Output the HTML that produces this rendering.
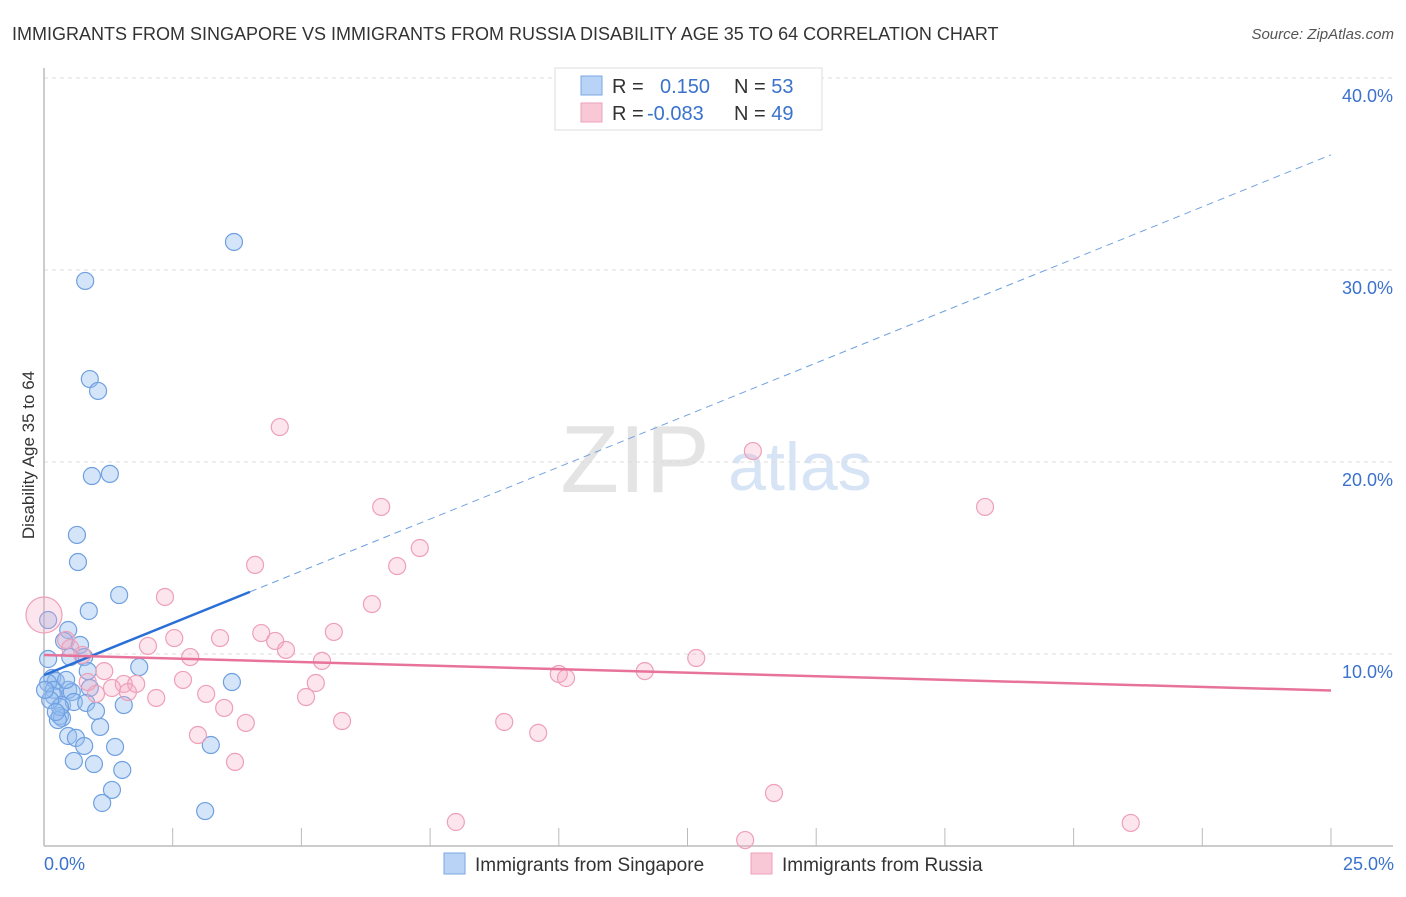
<!DOCTYPE html>
<html><head><meta charset="utf-8"><style>
body{margin:0;background:#fff;font-family:"Liberation Sans",sans-serif;}
svg text{font-family:"Liberation Sans",sans-serif;}
</style></head><body>
<svg id="c" width="1406" height="892">
<text x="12" y="40" font-size="18" fill="#333">IMMIGRANTS FROM SINGAPORE VS IMMIGRANTS FROM RUSSIA DISABILITY AGE 35 TO 64 CORRELATION CHART</text>
<text x="1394" y="39" font-size="15" fill="#555" font-style="italic" text-anchor="end">Source: ZipAtlas.com</text>
<text x="635" y="492" font-size="96" fill="#e4e4e4" font-family="Liberation Serif" text-anchor="middle">ZIP</text>
<text x="800" y="490" font-size="68" fill="#d6e4f5" text-anchor="middle">atlas</text>
<text transform="translate(34,455) rotate(-90)" font-size="17" fill="#333" text-anchor="middle">Disability Age 35 to 64</text>
<g id="grid"></g><g id="marks"></g>
<g>
<rect x="555" y="68" width="267" height="62" fill="#fff" stroke="#ddd"/>
<rect x="581" y="76" width="21" height="19" fill="#b8d3f5" stroke="#7aa7e2"/>
<rect x="581" y="103" width="21" height="19" fill="#f9c8d6" stroke="#eea0b8"/>
<text x="612" y="93" font-size="20" fill="#333">R = <tspan fill="#3a72cc" x="660">0.150</tspan><tspan fill="#333" x="734">N = </tspan><tspan fill="#3a72cc">53</tspan></text>
<text x="612" y="120" font-size="20" fill="#333">R = <tspan fill="#3a72cc" x="647">-0.083</tspan><tspan fill="#333" x="734">N = </tspan><tspan fill="#3a72cc">49</tspan></text>
</g>
<g>
<rect x="444" y="853" width="21" height="21" fill="#b8d3f5" stroke="#7aa7e2"/>
<text x="475" y="871" font-size="19" fill="#333">Immigrants from Singapore</text>
<rect x="751" y="853" width="21" height="21" fill="#f9c8d6" stroke="#eea0b8"/>
<text x="782" y="871" font-size="19" fill="#333">Immigrants from Russia</text>
</g>
<text x="44" y="870" font-size="18" fill="#3a72cc">0.0%</text>
<text x="1394" y="870" font-size="18" fill="#3a72cc" text-anchor="end">25.0%</text>
</svg>
<script>
const yTicks=[10,20,30,40];
const yTickLabels=["10.0%","20.0%","30.0%","40.0%"];
const blueX=[3.69,0.80,0.89,1.05,0.93,1.28,0.64,0.66,1.46,0.87,0.08,0.47,0.39,0.70,0.08,0.51,0.78,1.85,0.85,0.16,0.23,0.08,0.19,0.47,0.54,0.89,3.65,0.19,0.35,0.58,0.82,1.55,1.01,0.31,0.35,0.27,1.09,0.47,0.62,0.78,1.38,3.24,0.58,0.97,1.52,1.32,1.13,3.13,0.31,0.12,0.43,0.02,0.23];
const blueY=[31.46,29.43,24.32,23.70,19.27,19.38,16.20,14.79,13.07,12.24,11.77,11.25,10.68,10.47,9.74,9.84,9.84,9.32,9.11,8.75,8.59,8.49,8.13,8.13,8.02,8.23,8.54,7.81,7.34,7.50,7.45,7.34,7.03,6.77,6.67,6.56,6.20,5.73,5.63,5.21,5.16,5.26,4.43,4.27,3.96,2.92,2.24,1.82,7.24,7.60,8.65,8.13,6.98];
const pinkX=[4.58,13.77,18.28,6.55,7.30,6.86,4.10,2.35,6.37,0.0,4.22,5.63,2.53,3.42,4.49,2.02,4.70,0.43,0.74,2.84,5.40,1.17,10.00,10.14,11.67,12.67,2.70,5.28,1.55,1.79,1.32,1.63,3.15,5.09,2.18,3.50,1.01,5.79,3.92,8.94,9.60,2.99,3.71,14.18,8.00,21.11,13.62,0.51,0.85];
const pinkY=[21.82,20.57,17.66,17.66,15.52,14.58,14.64,12.97,12.60,12.03,11.09,11.15,10.83,10.83,10.68,10.42,10.21,10.73,9.95,9.84,9.64,9.11,8.96,8.75,9.11,9.79,8.65,8.49,8.44,8.44,8.23,8.02,7.92,7.76,7.71,7.19,7.92,6.51,6.41,6.46,5.89,5.78,4.38,2.76,1.25,1.20,0.31,10.31,8.54];
const blueTrend=[8.9,36.0];
const pinkTrend=[9.95,8.1];
const NS='http://www.w3.org/2000/svg';
const xs=v=>44+v*(1287/25), ys=v=>846-v*19.2;
function mk(t,a,p){const e=document.createElementNS(NS,t);for(const k in a)e.setAttribute(k,a[k]);p.appendChild(e);return e;}
const g=document.getElementById('grid'), m=document.getElementById('marks');
yTicks.forEach((t,i)=>{
 const l=mk('line',{x1:44,x2:1393,y1:ys(t),y2:ys(t),stroke:'#ddd','stroke-dasharray':'4,4'},g);
 
 
 const tx=mk('text',{x:1393,y:ys(t)+24,'font-size':18,fill:'#3a72cc','text-anchor':'end'},g);
 tx.textContent=yTickLabels[i];
 
 
});
const ax=mk('line',{x1:44,x2:44,y1:68,y2:846,stroke:'#bbb','stroke-width':1.5},g);


const bx=mk('line',{x1:44,x2:1393,y1:846,y2:846,stroke:'#bbb','stroke-width':1.5},g);


for(let i=1;i<=10;i++){const t=mk('line',{x1:xs(i*2.5),x2:xs(i*2.5),y1:828,y2:846,stroke:'#bbb'},g);
 
 }
blueX.forEach((x,i)=>{const c=mk('circle',{cx:xs(x),cy:ys(blueY[i]),r:8.5,fill:'rgba(150,190,240,0.4)',stroke:'#6fa0e0','stroke-width':1.2},m);
 
 });
pinkX.forEach((x,i)=>{const c=mk('circle',{cx:xs(x),cy:ys(pinkY[i]),r:i==9?18:8.5,fill:'rgba(245,170,195,0.3)',stroke:'#eea0b8','stroke-width':1.2},m);
 
 });
const bAt=x=>blueTrend[0]+(blueTrend[1]-blueTrend[0])*x/25;
let l1=mk('line',{x1:xs(0),y1:ys(bAt(0)),x2:xs(4),y2:ys(bAt(4)),stroke:'#2a6fd6','stroke-width':2.5},m);


let l2=mk('line',{x1:xs(4),y1:ys(bAt(4)),x2:xs(25),y2:ys(bAt(25)),stroke:'#6fa0e0','stroke-width':1,'stroke-dasharray':'7,5'},m);


let l3=mk('line',{x1:xs(0),y1:ys(pinkTrend[0]),x2:xs(25),y2:ys(pinkTrend[1]),stroke:'#e8739a','stroke-width':2.5},m);


</script>
</body></html>
